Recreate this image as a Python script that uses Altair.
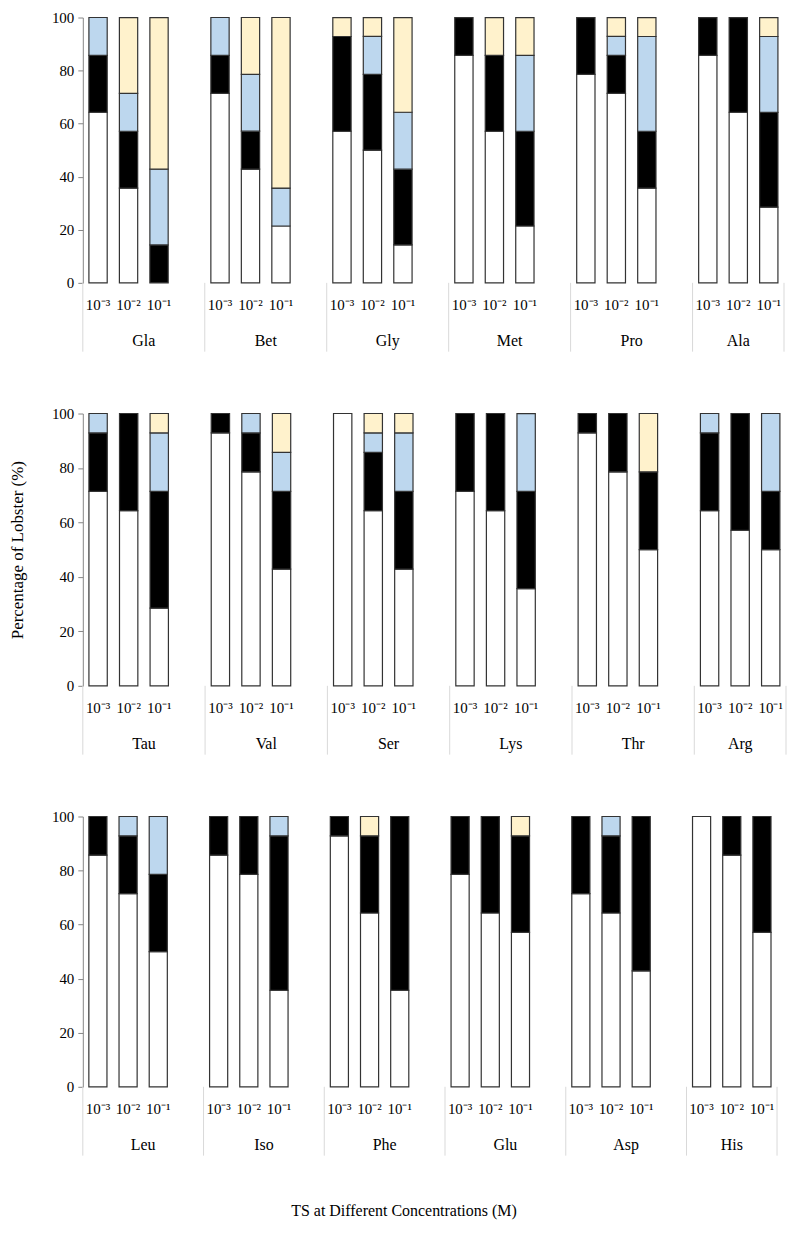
import altair as alt
import pandas as pd

CONC = ["10⁻³", "10⁻²", "10⁻¹"]
LAYERS = ["white", "black", "blue", "yellow"]
COLORS = ["#ffffff", "#000000", "#bdd7ee", "#fff2cc"]

# ---- panel 1 ----
groups1 = ["Gla", "Bet", "Gly", "Met", "Pro", "Ala"]
white1 = [64.29, 35.71, 0, 71.43, 42.86, 21.43, 57.14, 50.0, 14.29,
          85.71, 57.14, 21.43, 78.57, 71.43, 35.71, 85.71, 64.29, 28.57]
black1 = [21.43, 21.43, 14.29, 14.29, 14.29, 0, 35.71, 28.57, 28.57,
          14.29, 28.57, 35.71, 21.43, 14.29, 21.43, 14.29, 35.71, 35.71]
blue1 = [14.29, 14.29, 28.57, 14.29, 21.43, 14.29, 0, 14.29, 21.43,
         0, 0, 28.57, 0, 7.14, 35.71, 0, 0, 28.57]
yellow1 = [0, 28.57, 57.14, 0, 21.43, 64.29, 7.14, 7.14, 35.71,
           0, 14.29, 14.29, 0, 7.14, 7.14, 0, 0, 7.14]

# ---- panel 2 ----
groups2 = ["Tau", "Val", "Ser", "Lys", "Thr", "Arg"]
white2 = [71.43, 64.29, 28.57, 92.86, 78.57, 42.86, 100.0, 64.29, 42.86,
          71.43, 64.29, 35.71, 92.86, 78.57, 50.0, 64.29, 57.14, 50.0]
black2 = [21.43, 35.71, 42.86, 7.14, 14.29, 28.57, 0, 21.43, 28.57,
          28.57, 35.71, 35.71, 7.14, 21.43, 28.57, 28.57, 42.86, 21.43]
blue2 = [7.14, 0, 21.43, 0, 7.14, 14.29, 0, 7.14, 21.43,
         0, 0, 28.57, 0, 0, 0, 7.14, 0, 28.57]
yellow2 = [0, 0, 7.14, 0, 0, 14.29, 0, 7.14, 7.14,
           0, 0, 0, 0, 0, 21.43, 0, 0, 0]

# ---- panel 3 ----
groups3 = ["Leu", "Iso", "Phe", "Glu", "Asp", "His"]
white3 = [85.71, 71.43, 50.0, 85.71, 78.57, 35.71, 92.86, 64.29, 35.71,
          78.57, 64.29, 57.14, 71.43, 64.29, 42.86, 100.0, 85.71, 57.14]
black3 = [14.29, 21.43, 28.57, 14.29, 21.43, 57.14, 7.14, 28.57, 64.29,
          21.43, 35.71, 35.71, 28.57, 28.57, 57.14, 0, 14.29, 42.86]
blue3 = [0, 7.14, 21.43, 0, 0, 7.14, 0, 0, 0,
         0, 0, 0, 0, 7.14, 0, 0, 0, 0]
yellow3 = [0, 0, 0, 0, 0, 0, 0, 7.14, 0,
           0, 0, 7.14, 0, 0, 0, 0, 0, 0]

N_SLOTS = 23
FONT = "Liberation Serif"


def bars_df(groups, series):
    rows = []
    for gi, g in enumerate(groups):
        for ci, c in enumerate(CONC):
            k = gi * 3 + ci
            slot = gi * 4 + ci
            for li, (name, vals) in enumerate(zip(LAYERS, series)):
                v = vals[k]
                if v > 0:
                    rows.append(dict(group=g, conc=c, x0=slot + 0.2, x1=slot + 0.8,
                                     layer=name, ord=li, value=v))
    return pd.DataFrame(rows)


def conc_df(groups):
    rows = []
    for gi, g in enumerate(groups):
        for ci, c in enumerate(CONC):
            rows.append(dict(pos=gi * 4 + ci + 0.5, label=c))
    return pd.DataFrame(rows)


def group_df(groups):
    rows = []
    for gi, g in enumerate(groups):
        start = gi * 4
        end = min(start + 4, N_SLOTS)
        rows.append(dict(pos=(start + end) / 2, label=g))
    return pd.DataFrame(rows)


def sep_df(groups):
    return pd.DataFrame({"pos": [gi * 4 for gi in range(len(groups))] + [N_SLOTS]})


def panel(groups, series, width, height, ytitle=None, bottom_title=None):
    xscale = alt.Scale(domain=[0, N_SLOTS], nice=False, zero=False)
    xaxis = alt.Axis(labels=False, ticks=False, grid=False, domainColor="#d9d9d9",
                     domainWidth=1, title=None)
    yaxis_kwargs = dict(values=[0, 20, 40, 60, 80, 100], grid=False, domainColor="#868686",
                        tickColor="#868686", tickSize=5, labelPadding=4,
                        labelFontSize=15, labelFont=FONT, labelColor="#000000")
    if ytitle:
        yaxis_kwargs.update(title=ytitle, titleFont=FONT, titleFontSize=17,
                            titleFontWeight="normal", titleColor="#000000", titlePadding=25)
    else:
        yaxis_kwargs.update(title=None)

    bars = alt.Chart(bars_df(groups, series)).transform_stack(
        stack="value", groupby=["x0"], as_=["y0", "y1"],
        sort=[alt.SortField(field="ord", order="ascending")],
    ).mark_bar(
        stroke="#333333", strokeWidth=1.2
    ).encode(
        x=alt.X("x0:Q", scale=xscale, axis=xaxis),
        x2="x1:Q",
        y=alt.Y("y0:Q", scale=alt.Scale(domain=[0, 100], nice=False),
                axis=alt.Axis(**yaxis_kwargs)),
        y2="y1:Q",
        color=alt.Color("layer:N", scale=alt.Scale(domain=LAYERS, range=COLORS), legend=None),
    )

    seps = alt.Chart(sep_df(groups)).mark_rule(color="#d9d9d9", strokeWidth=1).encode(
        x=alt.X("pos:Q", scale=xscale, axis=None),
        y=alt.value(height),
        y2=alt.value(height + 69),
    )

    conc = alt.Chart(conc_df(groups)).mark_text(
        font=FONT, fontSize=15, color="#000000", align="center", baseline="middle"
    ).encode(
        x=alt.X("pos:Q", scale=xscale, axis=None),
        y=alt.value(height + 22),
        text="label:N",
    )

    grp = alt.Chart(group_df(groups)).mark_text(
        font=FONT, fontSize=16, color="#000000", align="center", baseline="middle"
    ).encode(
        x=alt.X("pos:Q", scale=xscale, axis=None),
        y=alt.value(height + 58),
        text="label:N",
    )

    layers = [bars, seps, conc, grp]
    if bottom_title:
        t = alt.Chart(pd.DataFrame({"t": [bottom_title]})).mark_text(
            font=FONT, fontSize=16, color="#000000", align="center", baseline="middle"
        ).encode(
            x=alt.value(322),
            y=alt.value(height + 125),
            text="t:N",
        )
        layers.append(t)
    return alt.layer(*layers).properties(width=width, height=height)


p1 = panel(groups1, [white1, black1, blue1, yellow1], 703, 266)
p2 = panel(groups2, [white2, black2, blue2, yellow2], 705, 273,
           ytitle="Percentage of Lobster (%)")
p3 = panel(groups3, [white3, black3, blue3, yellow3], 696, 271,
           bottom_title="TS at Different Concentrations (M)")

chart = alt.vconcat(p1, p2, p3, spacing=54).properties(
    padding={"top": 1, "left": 0, "right": 5, "bottom": 5}
).configure(font=FONT).configure_view(stroke=None)

chart.save("out.html", embed_options={"renderer": "svg", "actions": False})
